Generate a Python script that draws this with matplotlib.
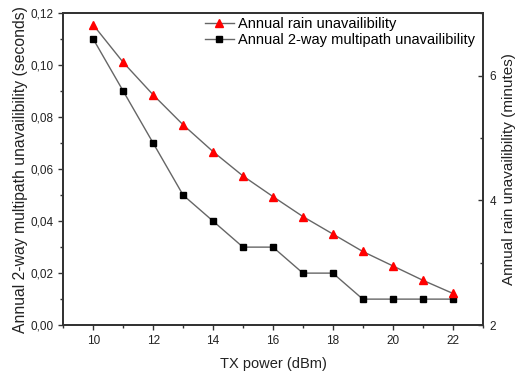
import numpy as np
import matplotlib
matplotlib.use("Agg")
import matplotlib.pyplot as plt
from matplotlib.ticker import FuncFormatter, MultipleLocator

plt.rcParams['font.family'] = ['Liberation Sans', 'DejaVu Sans']

# data
tx_power = [10, 11, 12, 13, 14, 15, 16, 17, 18, 19, 20, 21, 22]
rain_min = [6.81, 6.21, 5.69, 5.21, 4.78, 4.39, 4.06, 3.74, 3.46, 3.18, 2.95, 2.72, 2.51]
multipath_s = [0.11, 0.09, 0.07, 0.05, 0.04, 0.03, 0.03, 0.02, 0.02, 0.01, 0.01, 0.01, 0.01]

fig = plt.figure(figsize=(5.15, 3.75), dpi=100)
ax = fig.add_axes([0.123, 0.133, 0.814, 0.832])
ax2 = ax.twinx()

line_col = '#666666'
l2, = ax.plot(tx_power, multipath_s, '-', color=line_col, lw=1, marker='s', ms=4.5,
              mfc='black', mec='black', label='Annual 2-way multipath unavailibility')
l1, = ax2.plot(tx_power, rain_min, '-', color=line_col, lw=1, marker='^', ms=5.5,
               mfc='red', mec='red', label='Annual rain unavailibility')

ax.set_xlim(9, 23)
ax.set_ylim(0, 0.12)
ax2.set_ylim(2, 7)

ax.xaxis.set_major_locator(MultipleLocator(2))
ax.xaxis.set_minor_locator(MultipleLocator(1))
ax.yaxis.set_major_locator(MultipleLocator(0.02))
ax.yaxis.set_minor_locator(MultipleLocator(0.01))
ax2.yaxis.set_major_locator(MultipleLocator(2))
ax2.yaxis.set_minor_locator(MultipleLocator(1))
ax.yaxis.set_major_formatter(FuncFormatter(lambda v, p: f"{v:.2f}".replace('.', ',')))

ax.tick_params(which='major', direction='out', length=3.5, width=1, labelsize=8.5, color='#333333', labelcolor='#222222')
ax.tick_params(which='minor', direction='out', length=2.2, width=1, color='#333333')
ax2.tick_params(which='major', direction='in', length=3.5, width=1, labelsize=8.5, pad=5, color='#333333', labelcolor='#222222')
ax2.tick_params(which='minor', direction='in', length=2.2, width=1, color='#333333')
for a in (ax, ax2):
	for s in a.spines.values():
		s.set_linewidth(1.3)
		s.set_color('#333333')

ax.set_xlabel('TX power (dBm)', fontsize=10.5, labelpad=7, color='#222222')
ax.set_ylabel('Annual 2-way multipath unavailibility (seconds)', fontsize=11.3, labelpad=2, color='#222222')
ax2.set_ylabel('Annual rain unavailibility (minutes)', fontsize=11, labelpad=4, color='#222222')

ax2.legend([l1, l2], [l1.get_label(), l2.get_label()], loc='upper right', frameon=False,
           fontsize=10.5, handlelength=2.0, handletextpad=0.3, borderaxespad=0.1,
           labelspacing=0.15, bbox_to_anchor=(1.0, 1.01))

fig.savefig('out.png', dpi=100)
